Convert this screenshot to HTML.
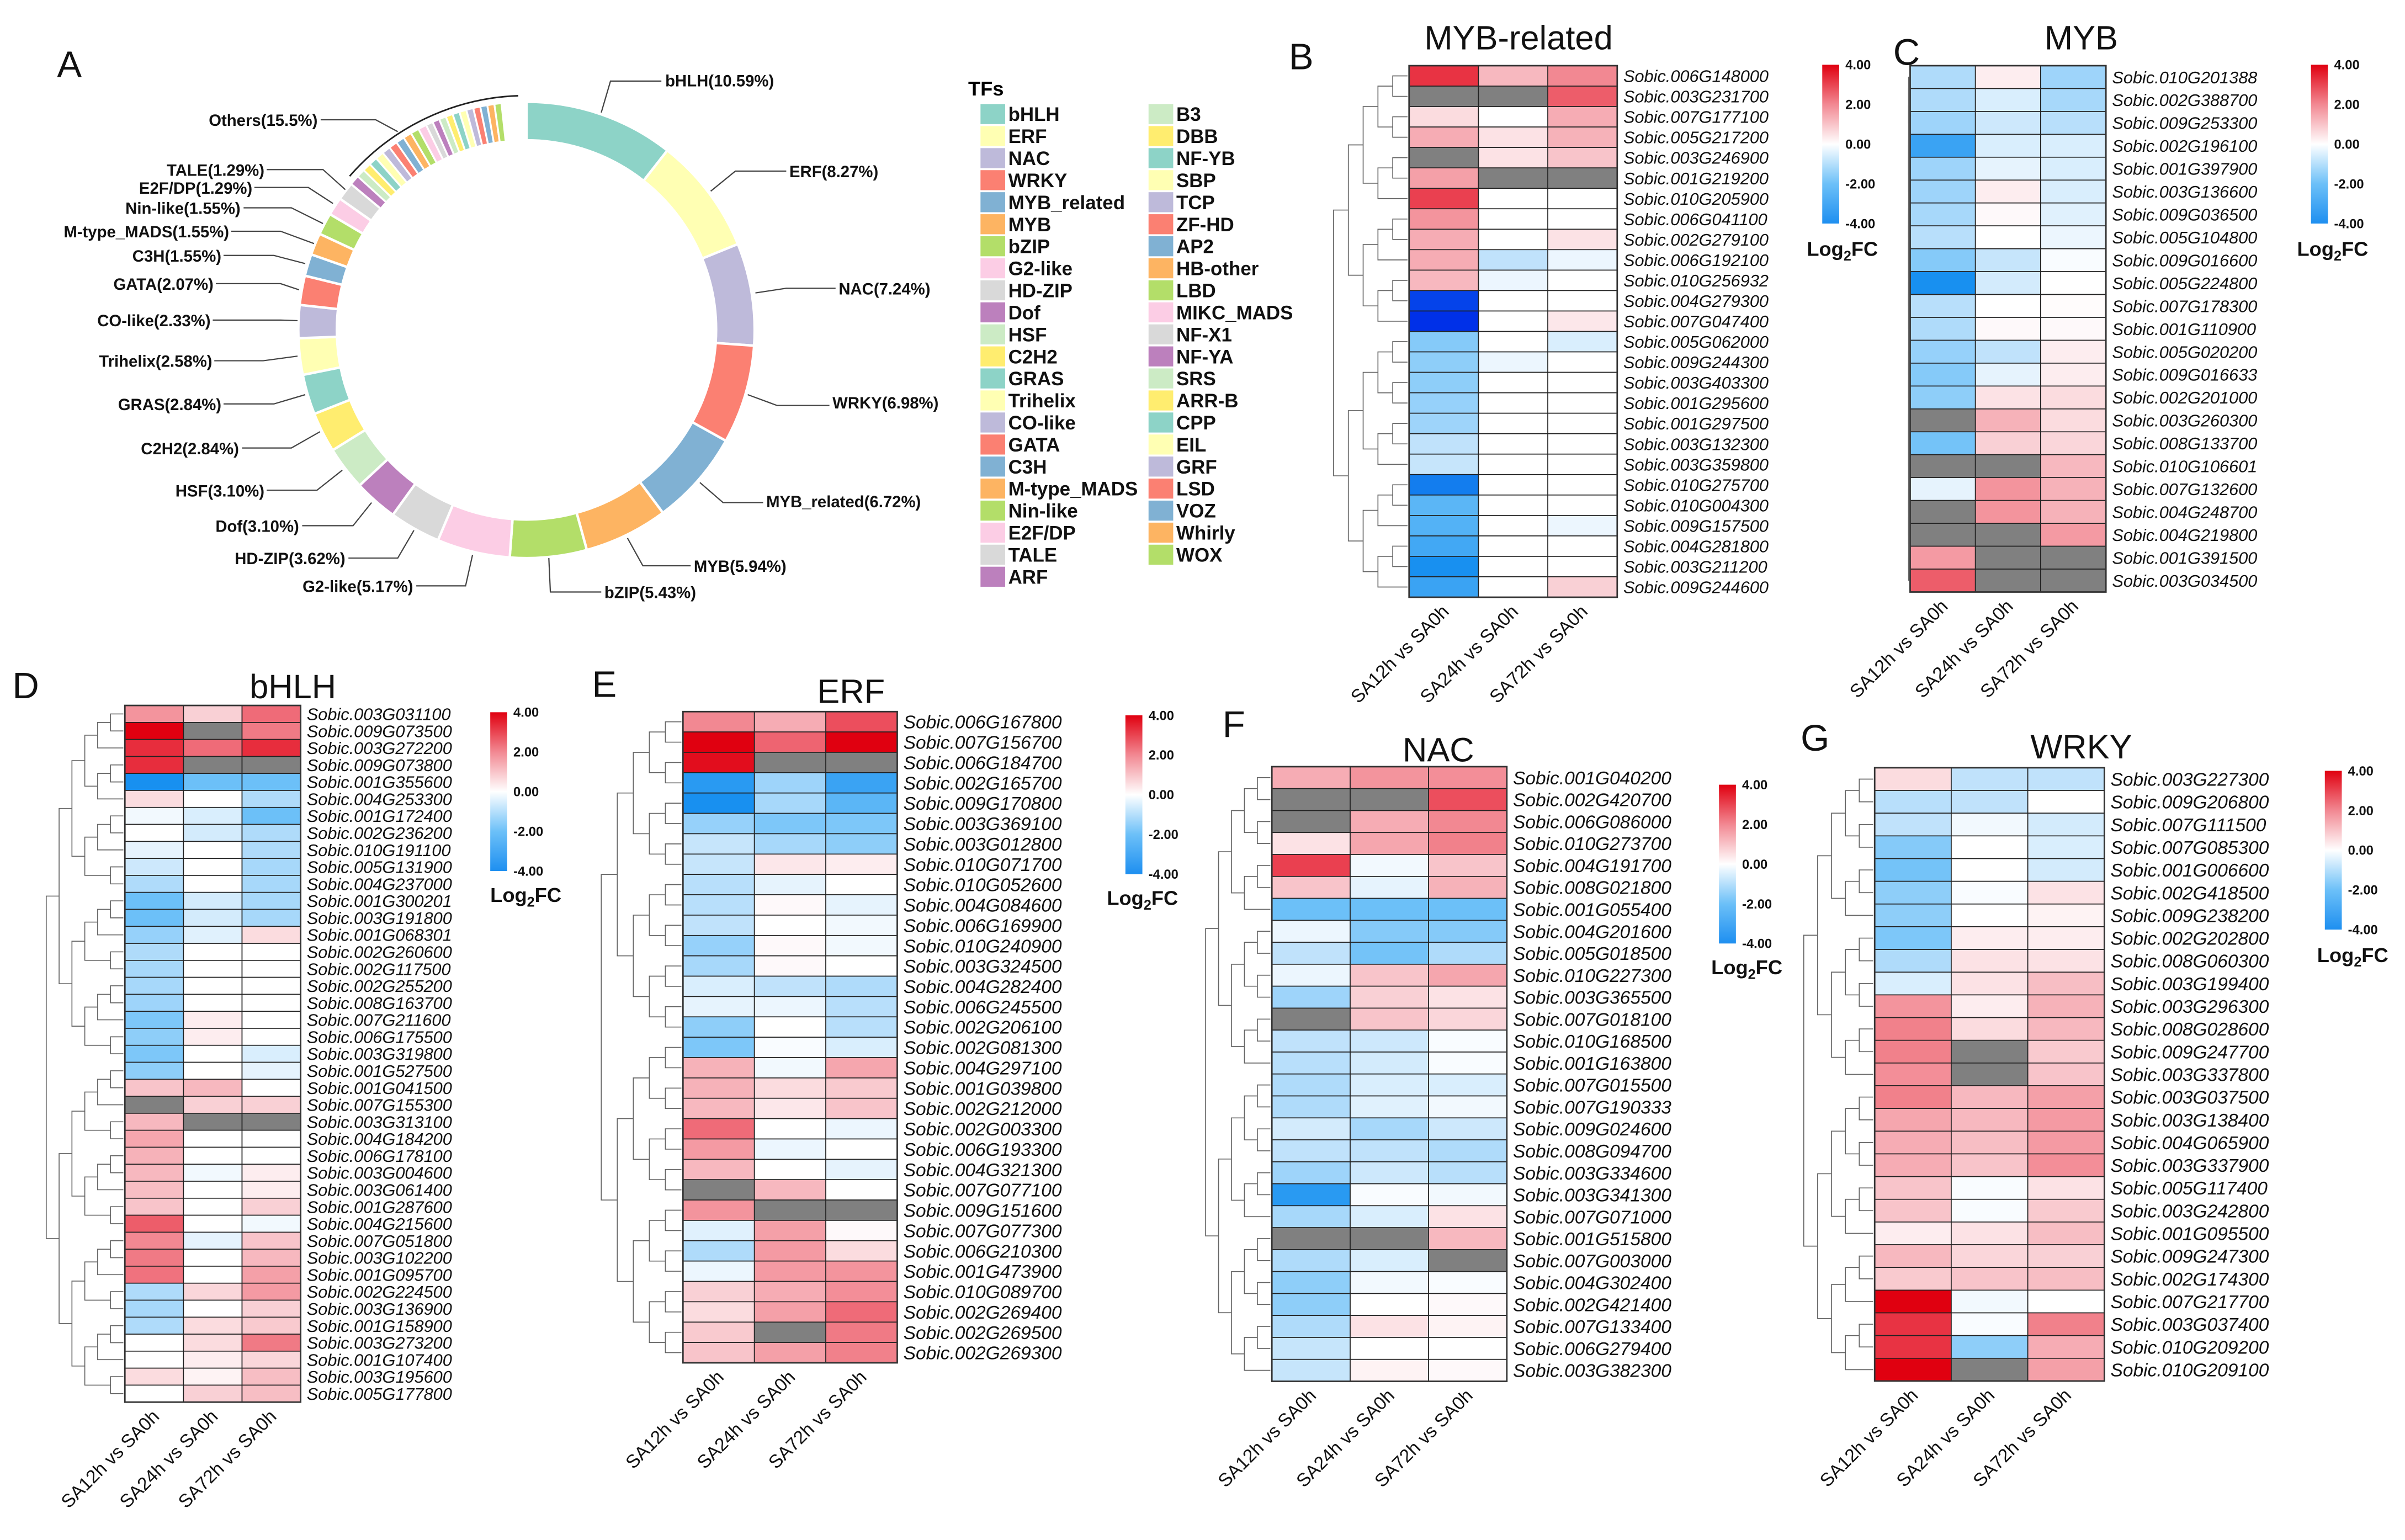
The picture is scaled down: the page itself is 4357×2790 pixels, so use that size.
<!DOCTYPE html>
<html><head><meta charset="utf-8">
<style>
html,body{margin:0;padding:0;background:#fff;}
svg{display:block;font-family:"Liberation Sans",sans-serif;}
</style></head>
<body>
<svg id="fig" width="4357" height="2790" viewBox="0 0 1560 998.93" preserveAspectRatio="none" xmlns="http://www.w3.org/2000/svg">
<defs>
<linearGradient id="cbar" x1="0" y1="0" x2="0" y2="1">
<stop offset="0" stop-color="#e00010"/><stop offset="0.25" stop-color="#f28892"/><stop offset="0.5" stop-color="#ffffff"/><stop offset="0.75" stop-color="#6cc0f8"/><stop offset="1" stop-color="#1e8ff0"/>
</linearGradient>
</defs>
<rect width="1560" height="999" fill="#fff"/>
<g id="pie"></g>
<g id="legendA"></g>
<g id="heat"></g>
</svg>
<script>
// ---------- Panel A data ----------
const tfNames = ["bHLH","ERF","NAC","WRKY","MYB_related","MYB","bZIP","G2-like","HD-ZIP","Dof","HSF","C2H2","GRAS","Trihelix","CO-like","GATA","C3H","M-type_MADS","Nin-like","E2F/DP","TALE"];
const tfPct = [10.59,8.27,7.24,6.98,6.72,5.94,5.43,5.17,3.62,3.10,3.10,2.84,2.84,2.58,2.33,2.07,1.55,1.55,1.55,1.29,1.29];
const otherNames = ["ARF","B3","DBB","NF-YB","SBP","TCP","ZF-HD","AP2","HB-other","LBD","MIKC_MADS","NF-X1","NF-YA","SRS","ARR-B","CPP","EIL","GRF","LSD","VOZ","Whirly","WOX"];
const otherPct = [0.7,0.6,0.6,0.6,0.6,0.6,0.6,0.6,0.6,0.6,0.6,0.5,0.5,0.5,0.5,0.5,0.5,0.5,0.5,0.5,0.5,0.5];
const legendCol1 = ["bHLH","ERF","NAC","WRKY","MYB_related","MYB","bZIP","G2-like","HD-ZIP","Dof","HSF","C2H2","GRAS","Trihelix","CO-like","GATA","C3H","M-type_MADS","Nin-like","E2F/DP","TALE","ARF"];
const legendCol2 = ["B3","DBB","NF-YB","SBP","TCP","ZF-HD","AP2","HB-other","LBD","MIKC_MADS","NF-X1","NF-YA","SRS","ARR-B","CPP","EIL","GRF","LSD","VOZ","Whirly","WOX"];
const set3 = ["#8dd3c7","#ffffb3","#bebada","#fb8072","#80b1d3","#fdb462","#b3de69","#fccde5","#d9d9d9","#bc80bd","#ccebc5","#ffed6f"];

// ---------- Heatmap data ----------
const colLabels = ["SA12h vs SA0h","SA24h vs SA0h","SA72h vs SA0h"];
const genesB = ["006G148000","003G231700","007G177100","005G217200","003G246900","001G219200","010G205900","006G041100","002G279100","006G192100","010G256932","004G279300","007G047400","005G062000","009G244300","003G403300","001G295600","001G297500","003G132300","003G359800","010G275700","010G004300","009G157500","004G281800","003G211200","009G244600"];
const b12 = [3.2,null,0.6,1.4,null,1.6,3.0,1.8,1.4,1.4,1.2,-3.8,-4.0,-1.7,-1.6,-1.6,-1.5,-1.4,-1.0,-0.9,-3.2,-2.2,-2.3,-2.5,-3.0,-2.6];
const b24 = [1.2,null,0,0.5,0.5,null,0,0,0,-1.0,-0.3,0,0,0,-0.3,0,0,0,0,0,0,0,0,0,0,0];
const b72 = [2.0,2.6,1.4,1.3,1.0,null,0,0,0.5,-0.3,0,0,0.4,-0.6,0,0,0,0,0,0,0,0,-0.3,0,0,0.8];

const genesC = ["010G201388","002G388700","009G253300","002G196100","001G397900","003G136600","009G036500","005G104800","009G016600","005G224800","007G178300","001G110900","005G020200","009G016633","002G201000","003G260300","008G133700","010G106601","007G132600","004G248700","004G219800","001G391500","003G034500"];
const c12 = [-1.2,-1.2,-1.4,-2.6,-1.4,-1.4,-1.3,-1.1,-1.7,-3.0,-1.1,-1.2,-1.5,-1.7,-1.6,null,-1.9,null,-0.4,null,null,1.7,2.6];
const c24 = [0.3,-0.6,-0.8,-0.6,-0.4,0.3,0.1,0,-0.9,-0.7,0,0.1,-1.0,-0.4,0.5,1.3,0.8,null,1.8,1.8,null,null,null];
const c72 = [-1.4,-1.3,-1.1,-0.6,-0.6,-0.6,-0.5,-0.3,-0.1,0,0.05,0.1,0.3,0.3,0.6,0.6,0.7,1.2,1.3,1.3,1.7,null,null];

const genesD = ["003G031100","009G073500","003G272200","009G073800","001G355600","004G253300","001G172400","002G236200","010G191100","005G131900","004G237000","001G300201","003G191800","001G068301","002G260600","002G117500","002G255200","008G163700","007G211600","006G175500","003G319800","001G527500","001G041500","007G155300","003G313100","004G184200","006G178100","003G004600","003G061400","001G287600","004G215600","007G051800","003G102200","001G095700","002G224500","003G136900","001G158900","003G273200","001G107400","003G195600","005G177800"];
const d12 = [1.8,4.0,3.3,3.3,-3.0,0.6,-0.2,0,-0.4,-0.8,-1.2,-2.0,-2.0,-1.5,-1.2,-1.3,-1.3,-1.4,-1.8,-1.6,-1.8,-1.6,1.0,null,1.2,1.5,1.3,1.2,1.1,1.0,2.6,2.0,2.2,2.3,-1.2,-1.3,-1.2,0,0,0.6,0];
const d24 = [0.8,null,2.4,null,-2.0,0,-0.6,-0.7,0,0,0,-0.7,-0.7,-0.5,0,0,0,0,0.3,0.3,0,0,1.2,0.8,null,0,0,-0.2,0,0,0,-0.4,0,0,0.7,0,0.6,0.6,0.3,0.2,0.8];
const d72 = [2.4,2.2,3.3,null,-2.0,-1.2,-2.0,-1.2,-1.2,-1.3,-1.3,-1.3,-1.3,0.6,0,0,0,0,0,0,-0.6,-0.4,0,0.8,null,0,0,0.3,0.3,0.8,-0.2,1.0,1.2,1.6,1.7,0.8,0.9,2.2,0.7,1.1,1.1];

const genesE = ["006G167800","007G156700","006G184700","002G165700","009G170800","003G369100","003G012800","010G071700","010G052600","004G084600","006G169900","010G240900","003G324500","004G282400","006G245500","002G206100","002G081300","004G297100","001G039800","002G212000","002G003300","006G193300","004G321300","007G077100","009G151600","007G077300","006G210300","001G473900","010G089700","002G269400","002G269500","002G269300"];
const e12 = [2.0,4.0,3.8,-2.8,-3.0,-1.5,-0.9,-0.9,-1.1,-1.1,-1.0,-1.5,-1.3,-0.6,-0.4,-1.6,-1.8,1.3,1.3,1.2,2.4,1.7,1.2,null,1.8,-0.5,-1.2,-0.3,0.8,0.6,0.9,1.0];
const e24 = [1.4,2.5,null,-1.4,-1.3,-1.8,-1.3,0.4,-0.4,0.1,0,0.1,0.1,-1.0,-0.3,0,-0.1,-0.2,0.6,0.4,0,-0.3,0,1.2,null,1.6,1.7,1.7,1.4,1.6,null,1.6];
const e72 = [2.8,4.0,null,-2.6,-2.2,-1.8,-1.6,0.3,0,-0.4,-0.2,-0.2,0,-1.2,-1.1,-1.1,-0.6,1.5,0.9,1.0,-0.3,0,-0.4,0,null,0.1,0.6,1.8,1.9,2.4,2.2,2.1];

const genesF = ["001G040200","002G420700","006G086000","010G273700","004G191700","008G021800","001G055400","004G201600","005G018500","010G227300","003G365500","007G018100","010G168500","001G163800","007G015500","007G190333","009G024600","008G094700","003G334600","003G341300","007G071000","001G515800","007G003000","004G302400","002G421400","007G133400","006G279400","003G382300"];
const f12 = [1.4,null,null,0.5,3.0,1.0,-2.0,-0.3,-1.0,-0.3,-1.4,null,-1.0,-1.1,-1.2,-1.2,-0.7,-1.0,-1.4,-2.8,-1.3,null,-1.2,-1.6,-1.6,-1.2,-0.9,-0.9];
const f24 = [1.8,null,1.4,1.5,-0.2,-0.4,-2.0,-1.7,-1.9,1.0,0.8,1.0,-0.8,-0.7,-0.6,-0.5,-1.3,-1.0,-0.8,-0.1,-0.6,null,-0.6,-0.2,0,0.5,0,0.2];
const f72 = [1.9,2.8,2.0,2.1,1.0,1.3,-2.0,-1.7,-1.2,1.5,0.5,0.7,-0.1,-0.1,-0.6,-0.2,-0.8,-1.2,-1.1,-0.2,0.5,1.2,null,-0.1,0.1,0.2,0,0.1];

const genesG = ["003G227300","009G206800","007G111500","007G085300","001G006600","002G418500","009G238200","002G202800","008G060300","003G199400","003G296300","008G028600","009G247700","003G337800","003G037500","003G138400","004G065900","003G337900","005G117400","003G242800","001G095500","009G247300","002G174300","007G217700","003G037400","010G209200","010G209100"];
const g12 = [0.6,-1.1,-1.0,-1.7,-1.9,-1.6,-1.6,-1.8,-1.2,-0.6,1.8,2.1,2.1,1.9,2.1,1.5,1.4,1.4,1.0,1.0,0.3,1.2,0.9,4.0,3.2,3.2,4.0];
const g24 = [-1.0,-1.0,-0.2,0,0,-0.1,0,0.3,0.5,0.5,0.3,0.6,null,null,1.2,1.2,1.1,1.0,-0.1,-0.1,0.5,0.7,1.0,-0.2,-0.1,-1.6,null];
const g72 = [-1.0,0,-0.7,-0.6,-0.7,0.5,0.2,0.3,0.5,1.1,1.3,1.2,0.9,1.0,1.6,1.7,1.7,1.9,0.5,0.9,1.1,0.8,1.1,0,2.1,1.4,1.6];

const tickLabels = ["4.00","2.00","0.00","-2.00","-4.00"];

// ---------- helpers ----------
const NS = "http://www.w3.org/2000/svg";
function mk(tag, attrs, parent, text){
  const e = document.createElementNS(NS, tag);
  for (const k in attrs) e.setAttribute(k, attrs[k]);
  if (text !== undefined) e.textContent = text;
  parent.appendChild(e);
  return e;
}
const stops = [[-4,[0,48,232]],[-3,[24,144,240]],[-2,[108,192,248]],[-1,[192,226,251]],[0,[255,255,255]],[1,[248,196,202]],[2,[242,136,146]],[3,[234,64,80]],[4,[224,0,16]]];
function colorOf(v){
  if (v === null) return "#808080";
  v = Math.max(-4, Math.min(4, v));
  for (let i=0;i<stops.length-1;i++){
    const a=stops[i], b=stops[i+1];
    if (v>=a[0] && v<=b[0]){
      const t=(v-a[0])/(b[0]-a[0]);
      const c=a[1].map((x,j)=>Math.round(x+(b[1][j]-x)*t));
      return "rgb("+c.join(",")+")";
    }
  }
  return "#fff";
}

// ---------- Panel A: donut ----------
const pie = document.getElementById("pie");
const cx = 341.5, cy = 214, rO = 148, rI = 123;
function pt(r, deg){ const a = deg*Math.PI/180; return [cx + r*Math.sin(a), cy - r*Math.cos(a)]; }
function arcPath(a0, a1){
  const p0=pt(rO,a0), p1=pt(rO,a1), p2=pt(rI,a1), p3=pt(rI,a0);
  const large = (a1-a0)>180?1:0;
  return `M${p0[0]},${p0[1]} A${rO},${rO} 0 ${large} 1 ${p1[0]},${p1[1]} L${p2[0]},${p2[1]} A${rI},${rI} 0 ${large} 0 ${p3[0]},${p3[1]} Z`;
}
let ang = 0;
tfPct.forEach((p,i)=>{
  const a1 = ang + p*3.6;
  const s = mk("path",{d:arcPath(ang,a1),fill:set3[i%12],stroke:"#fff","stroke-width":1.6},pie);
  
  
  ang = a1;
});
otherPct.forEach((p,i)=>{
  const a1 = ang + p*3.6;
  const s = mk("path",{d:arcPath(ang,a1),fill:set3[(21+i)%12],stroke:"#fff","stroke-width":1.2},pie);
  
  
  ang = a1;
});
// arc over Others
{
  const p0=pt(152,-49), p1=pt(152,-2);
  const a = mk("path",{d:`M${p0[0]},${p0[1]} A152,152 0 0 1 ${p1[0]},${p1[1]}`,fill:"none",stroke:"#222","stroke-width":1},pie);
  
  
}
// labels: [text, anchor, tx, ty, polyline points]
const pieLabels = [
 ["bHLH(10.59%)","start",431.5,56,"429,52.6 396,52.6 390,73"],
 ["ERF(8.27%)","start",512,115,"510,111 477,111 461,124"],
 ["NAC(7.24%)","start",544,191,"542,187 510,187 490,190"],
 ["WRKY(6.98%)","start",540,265,"538,263 504,263 485,256"],
 ["MYB_related(6.72%)","start",497,329,"495,326 469,326 454,313"],
 ["MYB(5.94%)","start",450,371,"448,367 417,367 407,349"],
 ["bZIP(5.43%)","start",392,388,"390,384 357,384 356,362"],
 ["G2-like(5.17%)","end",268,384,"270,380 302,380 306.5,360"],
 ["HD-ZIP(3.62%)","end",224,366,"226,362 258,362 268.5,344"],
 ["Dof(3.10%)","end",194,345,"196,341 229,341 241,326"],
 ["HSF(3.10%)","end",171.5,322,"173,318 205.6,318 222,305"],
 ["C2H2(2.84%)","end",155,294.6,"157,290.6 189,290.6 207.6,280"],
 ["GRAS(2.84%)","end",143.6,266,"145,262 177.7,262 198,256"],
 ["Trihelix(2.58%)","end",137.7,238,"139,234 170.7,234 193,231"],
 ["CO-like(2.33%)","end",136.6,211.6,"138,207.6 182,207.6 193,208"],
 ["GATA(2.07%)","end",138.5,188,"140,184 182,184 194,188"],
 ["C3H(1.55%)","end",143.6,169.7,"145,165.7 177.7,165.7 198,171"],
 ["M-type_MADS(1.55%)","end",148.6,154,"150,150 182,150 203.7,158"],
 ["Nin-like(1.55%)","end",156,138.8,"158,134.8 189,134.8 209.5,145"],
 ["E2F/DP(1.29%)","end",163.7,125.6,"165,121.6 200,121.6 216,132"],
 ["TALE(1.29%)","end",171.5,114,"173,110 209.5,110 224,123"],
 ["Others(15.5%)","end",206,81.7,"208,77.7 243.7,77.7 258,85.4"]
];
pieLabels.forEach(l=>{
  const ln = mk("polyline",{points:l[4],fill:"none",stroke:"#444","stroke-width":0.8},pie);
  
  
  const t = mk("text",{x:l[2],y:l[3],"text-anchor":l[1],"font-size":10.5,"font-weight":"bold",fill:"#111"},pie,l[0]);
  
  
});

// ---------- Legend A ----------
const lg = document.getElementById("legendA");
{
  const t = mk("text",{x:628,y:62,"font-size":13,"font-weight":"bold"},lg,"TFs");
  
  
}
function legendCol(names, startIdx, sx, tx){
  names.forEach((n,i)=>{
    const y = 74 + i*14.29;
    const r = mk("rect",{x:sx,y:y-6.5,width:16,height:13,fill:set3[(startIdx+i)%12]},lg);
    
    
    const t = mk("text",{x:tx,y:y+4.5,"font-size":12.5,"font-weight":"bold",fill:"#111"},lg,n);
    
    
  });
}
legendCol(legendCol1,0,636,654);
legendCol(legendCol2,22,745,763);

// panel letters
const letters = [["A",37,50],["B",836,45],["C",1228,42],["D",8,453],["E",384,452],["F",793,478],["G",1168,487]];
letters.forEach(l=>{
  const t = mk("text",{x:l[1],y:l[2],"font-size":24,fill:"#111"},document.getElementById("fig"),l[0]);
  
  
});

// ---------- Heatmaps ----------
const heat = document.getElementById("heat");
const panels = [
 {key:"myb-related",title:"MYB-related",genes:genesB,s:[b12,b24,b72],x0:914,x1:1049,y0:42.6,y1:387.4,fs:11,tx:985,ty:32,bx:1182,by:42,lx:1172,ly:166,dw:48},
 {key:"myb",title:"MYB",genes:genesC,s:[c12,c24,c72],x0:1239,x1:1366,y0:42.6,y1:384,fs:11,tx:1350,ty:32,bx:1499,by:42,lx:1490,ly:166,dw:0},
 {key:"bhlh",title:"bHLH",genes:genesD,s:[d12,d24,d72],x0:81,x1:195,y0:457.6,y1:909.5,fs:11,tx:190,ty:453,bx:318,by:462,lx:318,ly:585,dw:50},
 {key:"erf",title:"ERF",genes:genesE,s:[e12,e24,e72],x0:443,x1:582,y0:461.6,y1:884,fs:12,tx:552,ty:456,bx:730,by:464,lx:718,ly:587,dw:52},
 {key:"nac",title:"NAC",genes:genesF,s:[f12,f24,f72],x0:825,x1:977.4,y0:497.3,y1:896,fs:12,tx:933,ty:494,bx:1115,by:509,lx:1110,ly:632,dw:42},
 {key:"wrky",title:"WRKY",genes:genesG,s:[g12,g24,g72],x0:1216,x1:1365,y0:498,y1:895.8,fs:12,tx:1350,ty:492,bx:1508,by:500,lx:1503,ly:624,dw:45}
];

function drawDendro(g, n, x0, y0, rh, width){
  let maxH = 0;
  const segs = [];
  function build(lo,hi){
    if (lo===hi) return {y:y0+(lo+0.5)*rh,h:0};
    const mid = Math.floor((lo+hi)/2);
    const a = build(lo,mid), b = build(mid+1,hi);
    const h = Math.max(a.h,b.h)+1;
    maxH = Math.max(maxH,h);
    segs.push([a,b,h]);
    return {y:(a.y+b.y)/2,h:h};
  }
  build(0,n-1);
  const xs = h => x0 - h*(width/maxH);
  segs.forEach(s=>{
    const [a,b,h]=s; const x=xs(h);
    const p = mk("polyline",{points:`${xs(a.h)},${a.y} ${x},${a.y} ${x},${b.y} ${xs(b.h)},${b.y}`,fill:"none",stroke:"#666","stroke-width":0.6},g);
    
    
  });
}

panels.forEach(P=>{
  const g = mk("g",{},heat);
  
  
  const n = P.genes.length;
  const rh = (P.y1-P.y0)/n, cw = (P.x1-P.x0)/3;
  const t = mk("text",{x:P.tx,y:P.ty,"text-anchor":"middle","font-size":22,fill:"#111"},g,P.title);
  
  
  if (P.dw>0) drawDendro(g,n,P.x0-1,P.y0,rh,P.dw);
  else drawDendro(g,n,P.x0-1,P.y0,rh,0.001);
  for (let c=0;c<3;c++){
    for (let r=0;r<n;r++){
      const rc = mk("rect",{x:P.x0+c*cw,y:P.y0+r*rh,width:cw,height:rh,fill:colorOf(P.s[c][r]),stroke:"#222","stroke-width":0.6},g);
      
      
    }
    const xc = P.x0+(c+0.5)*cw+4, yc = P.y1+10;
    const cl = mk("text",{x:xc,y:yc,"text-anchor":"end","font-size":12,fill:"#111",transform:`rotate(-45 ${xc} ${yc})`},g,colLabels[c]);
    
    
  }
  const frame = mk("rect",{x:P.x0,y:P.y0,width:P.x1-P.x0,height:P.y1-P.y0,fill:"none",stroke:"#333","stroke-width":1},g);
  
  
  P.genes.forEach((gn,r)=>{
    const tx = mk("text",{x:P.x1+4,y:P.y0+(r+0.5)*rh+P.fs*0.36,"font-size":P.fs,"font-style":"italic",fill:"#111"},g,"Sobic."+gn);
    
    
  });
  // colour bar
  const cb = mk("rect",{x:P.bx,y:P.by,width:11,height:103,fill:"url(#cbar)"},g);
  
  
  tickLabels.forEach((tl,i)=>{
    const tt = mk("text",{x:P.bx+15,y:P.by+i*25.75+3,"font-size":8.5,"font-weight":"bold",fill:"#111"},g,tl);
    
    
  });
  const lt = mk("text",{x:P.lx,y:P.ly,"font-size":13,"font-weight":"bold",fill:"#111"},g);
  
  
  lt.appendChild(document.createTextNode("Log"));
  const sub = mk("tspan",{"font-size":9,dy:3},lt,"2");
  
  
  const rest = mk("tspan",{dy:-3},lt,"FC");
  
  
});
</script>
</body></html>
